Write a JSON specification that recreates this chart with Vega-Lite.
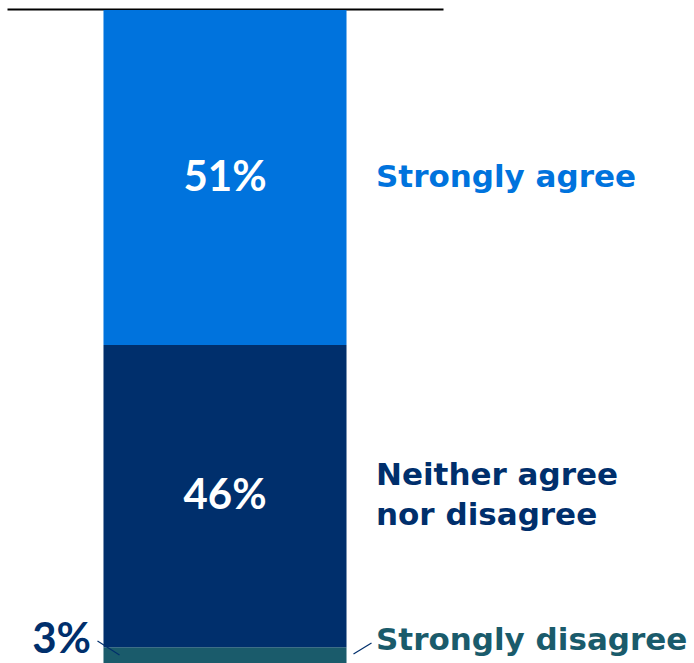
{
  "$schema": "https://vega.github.io/schema/vega-lite/v6.json",
  "autosize": "none",
  "width": 436,
  "height": 653,
  "padding": {"left": 7, "top": 10, "right": 251, "bottom": 0},
  "background": "white",
  "config": {"view": {"stroke": null}, "font": "DejaVu Sans"},
  "data": {
    "values": [
      {"group": "All", "category": "Strongly disagree", "label": "Strongly disagree", "value": 3, "rank": 1},
      {"group": "All", "category": "Neither agree nor disagree", "label": "Neither agree\nnor disagree", "value": 46, "rank": 2},
      {"group": "All", "category": "Strongly agree", "label": "Strongly agree", "value": 51, "rank": 3}
    ]
  },
  "transform": [
    {"stack": "value", "groupby": ["group"], "sort": [{"field": "rank"}], "as": ["y0", "y1"]},
    {"calculate": "(datum.y0 + datum.y1) / 2", "as": "mid"},
    {"calculate": "datum.value + '%'", "as": "pct"}
  ],
  "encoding": {
    "x": {
      "field": "group", "type": "nominal",
      "scale": {"paddingOuter": 0.397, "paddingInner": 0},
      "axis": {"orient": "top", "title": null, "labels": false, "ticks": false, "domainColor": "black", "domainWidth": 2, "offset": 1}
    }
  },
  "layer": [
    {
      "mark": {"type": "bar", "clip": true},
      "encoding": {
        "y": {"field": "y0", "type": "quantitative", "scale": {"domain": [0.6, 100], "nice": false, "zero": false}, "axis": null},
        "y2": {"field": "y1"},
        "color": {
          "field": "category", "type": "nominal", "legend": null,
          "scale": {"domain": ["Strongly agree", "Neither agree nor disagree", "Strongly disagree"], "range": ["#0073DD", "#002F6C", "#1A5B6B"]}
        }
      }
    },
    {
      "transform": [{"filter": "datum.value > 10"}],
      "mark": {"type": "text", "font": "Lato", "fontSize": 42, "fontWeight": "bold", "color": "white", "align": "center", "baseline": "middle"},
      "encoding": {
        "y": {"field": "mid", "type": "quantitative"},
        "text": {"field": "pct"}
      }
    },
    {
      "transform": [{"filter": "datum.value <= 10"}],
      "mark": {"type": "text", "font": "Lato", "fontSize": 42, "fontWeight": "bold", "color": "#002F6C", "align": "right", "baseline": "middle", "dx": -134, "dy": -17},
      "encoding": {
        "y": {"field": "mid", "type": "quantitative"},
        "text": {"field": "pct"}
      }
    },
    {
      "transform": [{"filter": "datum.rank == 3"}],
      "mark": {"type": "text", "fontSize": 31, "fontWeight": "bold", "align": "left", "baseline": "middle", "dx": 151},
      "encoding": {
        "y": {"field": "mid", "type": "quantitative"},
        "text": {"field": "label"},
        "color": {"field": "category", "type": "nominal", "legend": null}
      }
    },
    {
      "transform": [{"filter": "datum.rank == 2"}],
      "mark": {"type": "text", "fontSize": 31, "fontWeight": "bold", "align": "left", "baseline": "middle", "dx": 151, "dy": -20, "lineBreak": "\n", "lineHeight": 40},
      "encoding": {
        "y": {"field": "mid", "type": "quantitative"},
        "text": {"field": "label"},
        "color": {"field": "category", "type": "nominal", "legend": null}
      }
    },
    {
      "transform": [{"filter": "datum.rank == 1"}],
      "mark": {"type": "text", "fontSize": 31, "fontWeight": "bold", "align": "left", "baseline": "middle", "dx": 151, "dy": -16},
      "encoding": {
        "y": {"field": "mid", "type": "quantitative"},
        "text": {"field": "label"},
        "color": {"field": "category", "type": "nominal", "legend": null}
      }
    },
    {
      "transform": [{"filter": "datum.value <= 10"}],
      "mark": {"type": "rule", "color": "#002F6C", "strokeWidth": 1.2, "xOffset": -127.5, "x2Offset": -105.5, "yOffset": -16, "y2Offset": -2},
      "encoding": {
        "y": {"field": "mid", "type": "quantitative"},
        "y2": {"field": "mid"},
        "x2": {"field": "group"}
      }
    },
    {
      "transform": [{"filter": "datum.value <= 10"}],
      "mark": {"type": "rule", "color": "#002F6C", "strokeWidth": 1.2, "xOffset": 128.5, "x2Offset": 146.5, "yOffset": -3, "y2Offset": -14},
      "encoding": {
        "y": {"field": "mid", "type": "quantitative"},
        "y2": {"field": "mid"},
        "x2": {"field": "group"}
      }
    }
  ]
}
